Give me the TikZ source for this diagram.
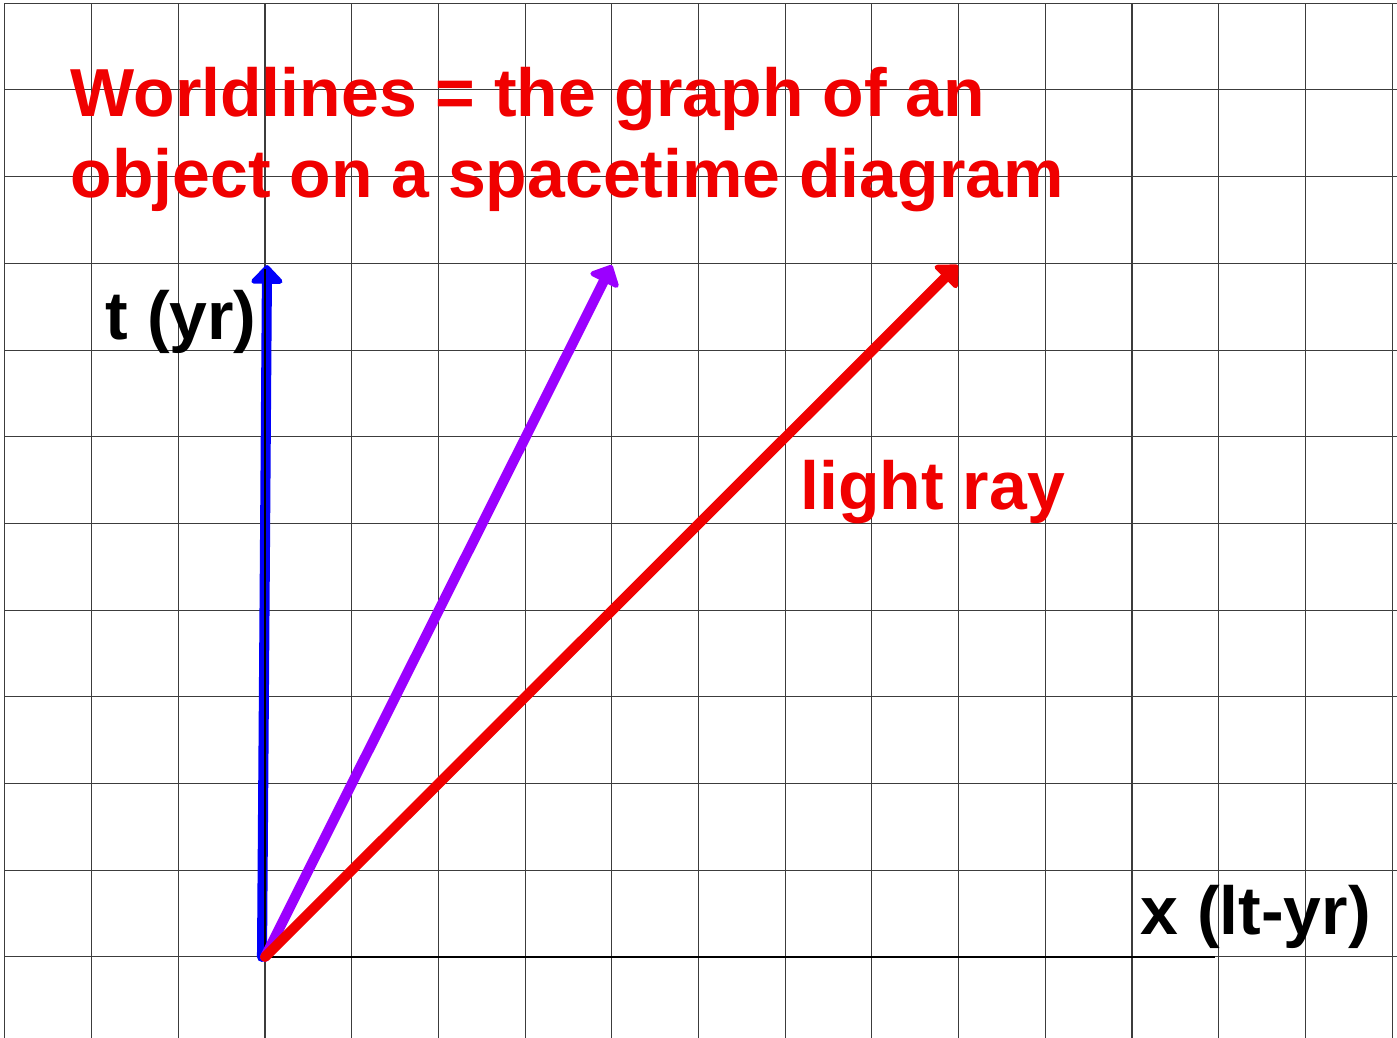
\documentclass[tikz,border=0pt]{standalone}
\usepackage{fontspec}
\setmainfont{Liberation Sans}
\usetikzlibrary{arrows.meta}
\definecolor{crojo}{RGB}{240,0,0}
\definecolor{cazul}{RGB}{0,0,250}
\definecolor{cviol}{RGB}{155,0,255}
\definecolor{crej}{RGB}{60,60,60}

\begin{document}
\begin{tikzpicture}[font=\fontsize{22.3}{26.8}\selectfont\bfseries,
    rejilla/.style={draw=crej, line width=0.35pt},
    eje/.style={draw=black, line width=0.9pt},
    linea/.style={line width=3.3pt, line cap=round, -{Triangle[round, length=6.5pt, width=12pt]}},
    lab/.style={anchor=base west, inner sep=0pt}]

  \useasboundingbox (-3.057,-0.934) rectangle (13.057,11.038);
  \fill[white] (-3.057,-0.934) rectangle (13.057,11.038);

  % rejilla
  \draw[rejilla] (-3,-0.934) grid (13.057,11);

  % puntos
  \coordinate (o) at (0,0);
  \coordinate (ob) at (-0.035,0);
  \coordinate (xfin) at (10.96,0);
  \coordinate (tfin) at (0,7.93);
  \coordinate (pazul) at (0.023,7.98);
  \coordinate (pviol) at (4.0,7.98);
  \coordinate (pluz) at (7.99,7.98);

  % ejes
  \draw[eje] (o) -- (xfin);
  \draw[linea, cazul] (ob) -- (pazul);
  \draw[eje] (o) -- (tfin);

  % lineas de universo
  \draw[linea, cviol] (o) -- (pviol);
  \draw[linea, crojo] (o) -- (pluz);

  % textos
  \node[lab, text=crojo] (tit1) at (-2.249,9.689) {Worldlines = the graph of an};
  \node[lab, text=crojo] (tit2) at (-2.249,8.754) {object on a spacetime diagram};
  \node[lab] (tlab) at (-1.845,7.117) {t (yr)};
  \node[lab, text=crojo] (luz) at (6.171,5.156) {light ray};
  \node[lab] (xlab) at (10.092,0.254) {x (lt-yr)};
\end{tikzpicture}
\end{document}
